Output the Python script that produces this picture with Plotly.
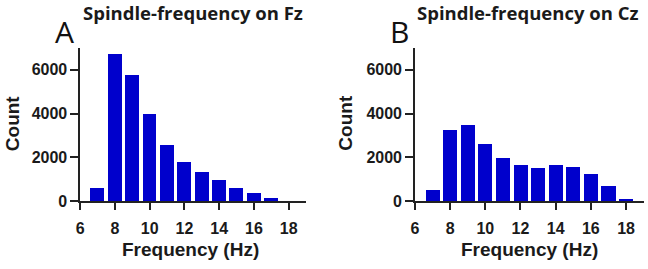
import plotly.graph_objects as go

freqs = [7, 8, 9, 10, 11, 12, 13, 14, 15, 16, 17, 18]
fz_counts = [620, 6720, 5750, 3980, 2590, 1810, 1340, 990, 640, 390, 150, 0]
cz_counts = [530, 3260, 3510, 2630, 1970, 1660, 1545, 1675, 1575, 1280, 705, 130]
x_ticks = [6, 8, 10, 12, 14, 16, 18]
y_ticks = [0, 2000, 4000, 6000]
titles = ["Spindle-frequency on Fz", "Spindle-frequency on Cz"]
panel_letters = ["A", "B"]

W, H = 648, 269
BAR = "#0000CC"

fig = go.Figure()
fig.add_trace(go.Bar(x=freqs, y=fz_counts, width=0.8, marker=dict(color=BAR, line=dict(width=0)),
                     xaxis="x", yaxis="y", showlegend=False))
fig.add_trace(go.Bar(x=freqs, y=cz_counts, width=0.8, marker=dict(color=BAR, line=dict(width=0)),
                     xaxis="x2", yaxis="y2", showlegend=False))

tickfont = dict(family="Liberation Sans", size=16, weight="bold", color="#1a1a1a")
ax_common = dict(showline=True, linecolor="#222", linewidth=1.5, ticks="outside",
                 tickwidth=1.5, tickcolor="#222", showgrid=False,
                 zeroline=False, tickfont=tickfont)
x_common = dict(ticklen=7, ticklabelstandoff=5, **ax_common)
y_common = dict(ticklen=8, **ax_common)

yb = 1 - 208.3 / H
yt = 1 - 49.3 / H
fig.update_layout(
    width=W, height=H,
    margin=dict(l=0, r=0, t=0, b=0),
    paper_bgcolor="white", plot_bgcolor="white",
    bargap=0,
    xaxis=dict(domain=[76.7 / W, 304 / W], range=[6, 19], tickvals=x_ticks, anchor="y", **x_common),
    yaxis=dict(domain=[yb, yt], range=[0, 7000], tickvals=y_ticks, anchor="x", **y_common),
    xaxis2=dict(domain=[413.5 / W, 643.6 / W], range=[6, 19], tickvals=x_ticks, anchor="y2", **x_common),
    yaxis2=dict(domain=[yb, yt], range=[0, 7000], tickvals=y_ticks, anchor="x2", **y_common),
)

def px(x):
    return x / W

def py(y):
    return 1 - y / H

ann = []
title_font = dict(family="Open Sans", size=18.5, weight="bold", color="#1a1a1a")
label_font = dict(family="Liberation Sans", size=19, weight="bold", color="#1a1a1a")
letter_font = dict(family="Open Sans", size=30, color="#111")
for t, cx in zip(titles, [190, 527]):
    ann.append(dict(text=t, x=px(cx), y=py(12.5), xref="paper", yref="paper",
                    xanchor="center", yanchor="middle", showarrow=False, font=title_font))
for L, cx in zip(panel_letters, [61, 398]):
    ann.append(dict(text=L, x=px(cx), y=py(33), xref="paper", yref="paper",
                    xanchor="center", yanchor="middle", showarrow=False, font=letter_font))
for cx in [8.5, 344]:
    ann.append(dict(text="Count", x=px(cx), y=py(127), xref="paper", yref="paper",
                    xanchor="center", yanchor="middle", showarrow=False, textangle=-90, font=label_font))
for cx in [188, 529]:
    ann.append(dict(text="Frequency (Hz)", x=px(cx), y=py(258), xref="paper", yref="paper",
                    xanchor="center", yanchor="middle", showarrow=False, font=label_font))
fig.update_layout(annotations=ann)

fig.write_html("out.html", config={"displayModeBar": False},
               post_script="document.body.style.margin='0px';document.body.style.overflow='hidden';")
